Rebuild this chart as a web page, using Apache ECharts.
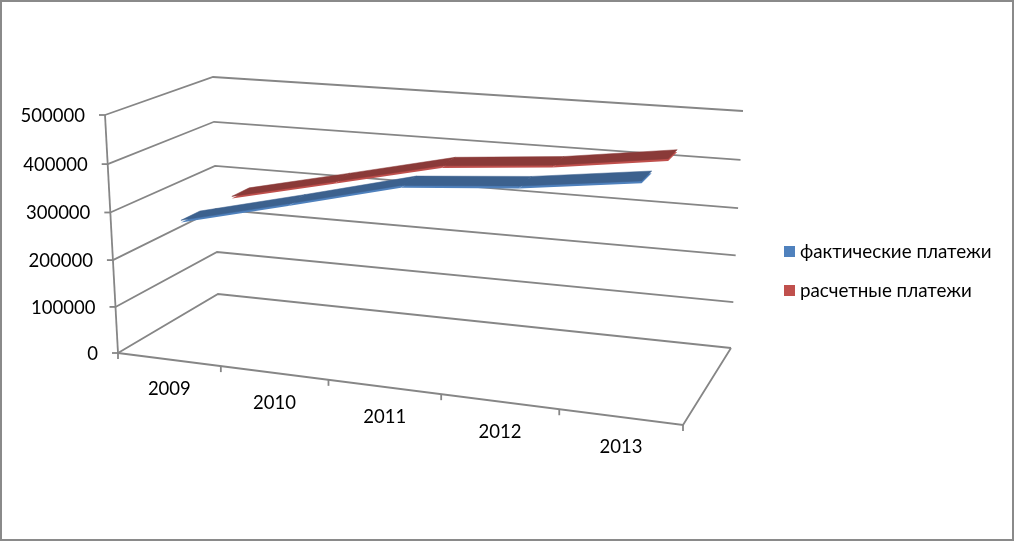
<!DOCTYPE html>
<html><head><meta charset="utf-8">
<style>html,body{margin:0;padding:0;background:#fff}#c{width:1014px;height:541px}</style>
<script src="https://cdn.jsdelivr.net/npm/echarts@6/dist/echarts.min.js"></script>
</head><body><div id="c"></div>
<script>
const categories = ['2009','2010','2011','2012','2013'];
const valueTicks = [0,100000,200000,300000,400000,500000];
const actualPayments = [277000,332000,389000,407000,436000];
const estimatedPayments = [275000,326000,378000,397000,428000];
const actualName = 'фактические платежи';
const estimatedName = 'расчетные платежи';

const FONT = 'Lato, "Open Sans", sans-serif';
const GRID = {left:100, top:100, width:500, height:200};
// Projected corners of the 3D box: floor and top plane (front-left, front-right, back-right, back-left)
const floorQuad = [[118,353],[683,425],[731,348],[218,294]];
const topQuad = [[105,115],[699,160],[743,111],[213,77]];

function homography(q){
  const [p0,p1,p2,p3]=q;
  const dx1=p1[0]-p2[0],dx2=p3[0]-p2[0],sx=p0[0]-p1[0]+p2[0]-p3[0];
  const dy1=p1[1]-p2[1],dy2=p3[1]-p2[1],sy=p0[1]-p1[1]+p2[1]-p3[1];
  const det=dx1*dy2-dx2*dy1;
  const g=(sx*dy2-dx2*sy)/det,h=(dx1*sy-sx*dy1)/det;
  const a=p1[0]-p0[0]+g*p1[0],b=p3[0]-p0[0]+h*p3[0],c=p0[0];
  const d=p1[1]-p0[1]+g*p1[1],e=p3[1]-p0[1]+h*p3[1],f=p0[1];
  return (u,w)=>{const z=g*u+h*w+1;return [(a*u+b*w+c)/z,(d*u+e*w+f)/z];};
}
const floorH=homography(floorQuad), topH=homography(topQuad);
function project(u,v,w){
  const uu=u+0.05*u*(1-u), vv=v-0.04*v*(1-v);
  const a=floorH(uu,w),b=topH(uu,w);
  return [a[0]+(b[0]-a[0])*vv,a[1]+(b[1]-a[1])*vv];
}
function norm(api,cat,val){
  const p=api.coord([cat,val]);
  return [(p[0]-GRID.left)/GRID.width,(GRID.top+GRID.height-p[1])/GRID.height];
}
const LINE={stroke:'#868686',lineWidth:1.8,fill:null};

function renderValueAxis(params,api){
  const val=api.value(1);
  const [,v]=norm(api,0,val);
  const children=[];
  const a=project(0,v,0),b=project(0,v,1),c=project(1,v,1);
  children.push({type:'polyline',shape:{points:[a,b,c]},style:LINE});
  children.push({type:'line',shape:{x1:a[0]-6,y1:a[1],x2:a[0],y2:a[1]},style:LINE});
  children.push({type:'text',style:{text:String(val),x:a[0]-20,y:a[1]+1,align:'right',verticalAlign:'middle',font:'18.5px '+FONT,fill:'#000'}});
  if(params.dataIndex===0){
    const t=project(0,1,0),r=project(1,0,0),br=project(1,0,1);
    children.push({type:'line',shape:{x1:a[0],y1:a[1],x2:t[0],y2:t[1]},style:LINE});
    children.push({type:'polyline',shape:{points:[a,r,br]},style:LINE});
  }
  return {type:'group',children};
}
function renderCategoryAxis(params,api){
  const i=api.value(0);
  const band=api.size([1,0])[0]/GRID.width;
  const [uc]=norm(api,i,0);
  const children=[];
  const tick=u=>{const p=project(u,0,0);return {type:'line',shape:{x1:p[0],y1:p[1],x2:p[0],y2:p[1]+6},style:LINE};};
  children.push(tick(uc-band/2));
  if(i===categories.length-1) children.push(tick(uc+band/2));
  const p=project(uc,0,0);
  children.push({type:'text',style:{text:categories[i],x:p[0]+0.5,y:p[1]+30,align:'center',verticalAlign:'middle',font:'18.5px '+FONT,fill:'#000'}});
  return {type:'group',children};
}
function ribbon(values,w0,w1,topColor,edgeColor){
  return function(params,api){
    const i=api.value(0);
    if(i>=values.length-1) return {type:'group',children:[]};
    const [u0,v0]=norm(api,i,api.value(1));
    const [u1,v1]=norm(api,i+1,values[i+1]);
    const d=0.009;
    const quad=(dv)=>[project(u0,v0-dv,w0),project(u1,v1-dv,w0),project(u1,v1-dv,w1),project(u0,v0-dv,w1)];
    return {type:'group',children:[
      {type:'polygon',shape:{points:quad(d)},style:{fill:edgeColor}},
      {type:'polygon',shape:{points:quad(0)},style:{fill:topColor,stroke:topColor,lineWidth:0.5}}
    ]};
  };
}
const chart=echarts.init(document.getElementById('c'),null,{renderer:'canvas'});
chart.setOption({
  animation:false,
  backgroundColor:'#fff',
  grid:GRID,
  xAxis:{type:'category',data:categories,show:false},
  yAxis:{type:'value',min:0,max:500000,show:false},
  legend:{orient:'vertical',left:779,top:237,itemWidth:11,itemHeight:11,itemGap:20,icon:'rect',selectedMode:false,
    data:[actualName,estimatedName],textStyle:{fontFamily:FONT,fontSize:18.8,color:'#000'}},
  graphic:[{type:'rect',silent:true,z:100,shape:{x:1,y:1,width:1012,height:539},style:{fill:null,stroke:'#8a8a8a',lineWidth:2}}],
  series:[
    {type:'custom',name:'axisValue',silent:true,clip:false,renderItem:renderValueAxis,data:valueTicks.map(v=>[0,v]),encode:{x:0,y:1}},
    {type:'custom',name:'axisCategory',silent:true,clip:false,renderItem:renderCategoryAxis,data:categories.map((c,i)=>[i,0]),encode:{x:0,y:1}},
    {type:'custom',name:estimatedName,silent:true,clip:false,itemStyle:{color:'#c0504d'},renderItem:ribbon(estimatedPayments,0.655,0.84,'#8a3a38','#c0504d'),data:estimatedPayments.map((v,i)=>[i,v]),encode:{x:0,y:1}},
    {type:'custom',name:actualName,silent:true,clip:false,itemStyle:{color:'#4f81bd'},renderItem:ribbon(actualPayments,0.155,0.335,'#3c618e','#4f81bd'),data:actualPayments.map((v,i)=>[i,v]),encode:{x:0,y:1}}
  ]
});
</script></body></html>
